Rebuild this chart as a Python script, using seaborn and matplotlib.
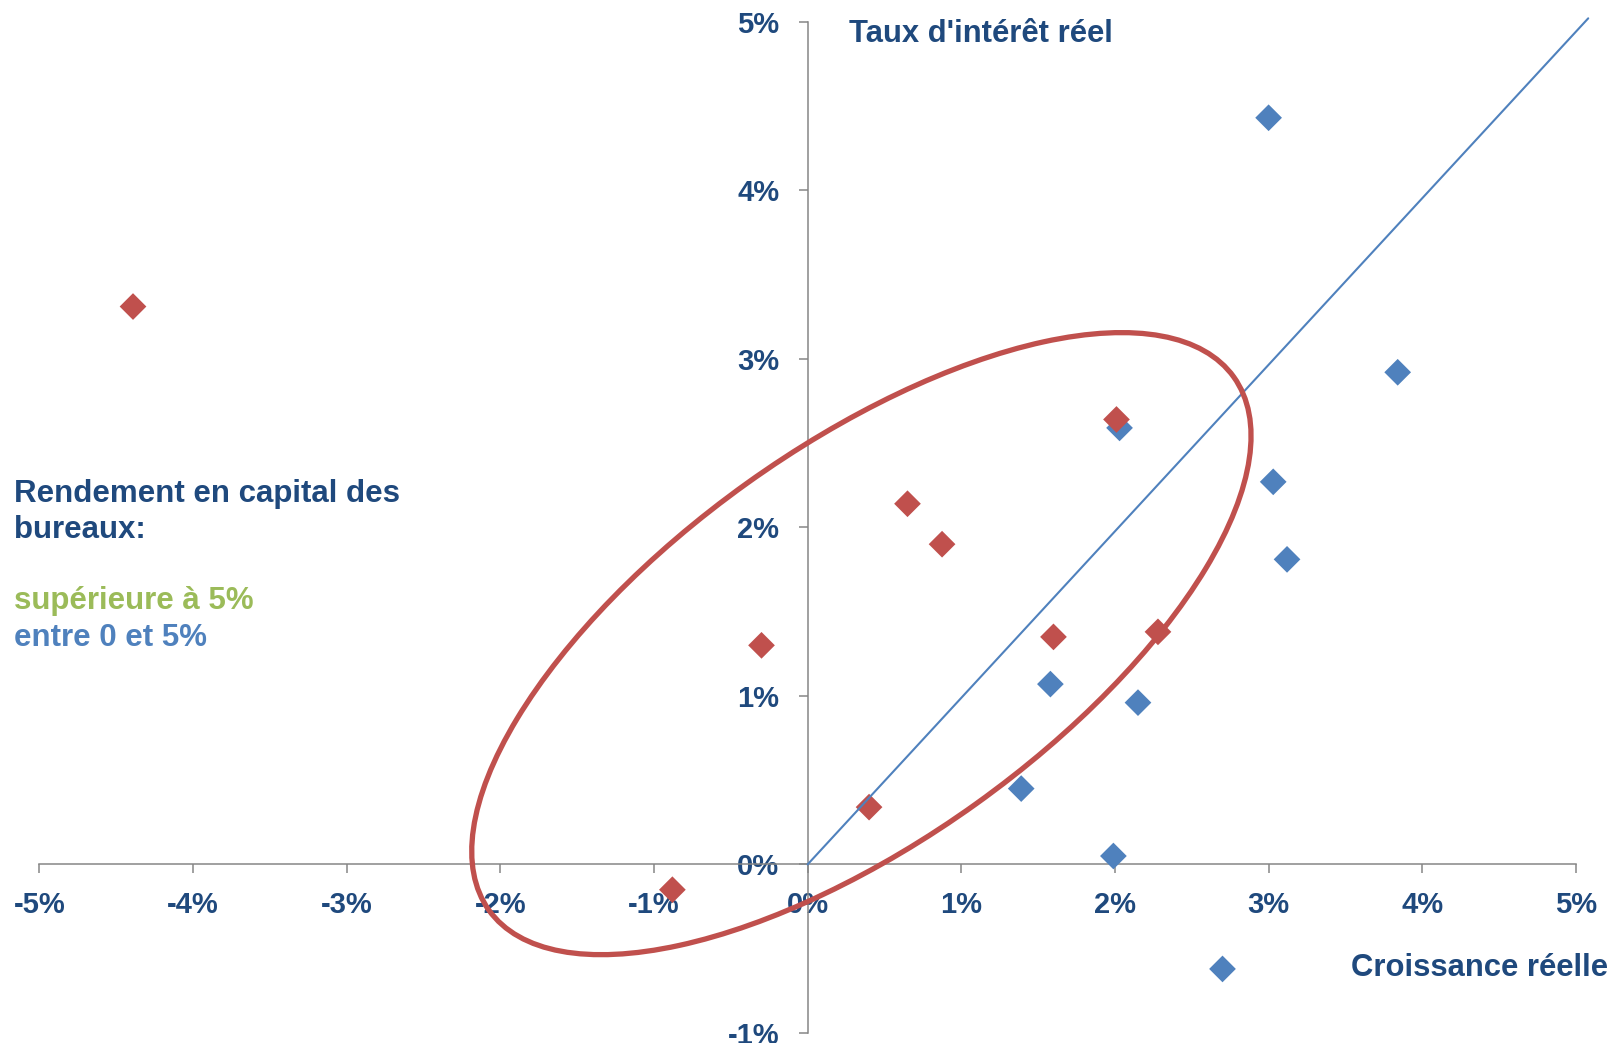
"""Croissance réelle vs taux d'intérêt réel, with the office capital return groups."""

import matplotlib

matplotlib.use("Agg")

import matplotlib.pyplot as plt
import pandas as pd
import seaborn as sns
from matplotlib.patches import Ellipse
from matplotlib.ticker import FuncFormatter
from matplotlib.transforms import IdentityTransform

# capital return above 5% (red markers)
high_growth = [-4.39, -0.88, -0.30, 0.40, 0.65, 0.875, 1.60, 2.01, 2.28]
high_rate = [3.31, -0.15, 1.30, 0.34, 2.14, 1.90, 1.35, 2.64, 1.38]

# capital return between 0 and 5% (blue markers)
mid_growth = [2.03, 3.00, 3.84, 3.03, 3.12, 1.58, 2.15, 1.39, 1.99, 2.70]
mid_rate = [2.59, 4.43, 2.92, 2.27, 1.81, 1.07, 0.96, 0.45, 0.05, -0.62]

# 45 degree reference line
diag_x = [0.0, 5.08]
diag_y = [0.0, 5.02]

x_ticks = [-5, -4, -3, -2, -1, 0, 1, 2, 3, 4, 5]
y_ticks = [-1, 0, 1, 2, 3, 4, 5]

RED = "#C0504D"
BLUE = "#4F81BD"
GREEN = "#9BBB59"
NAVY = "#1F497D"
GREY = "#868686"

sns.set_theme(style="white")
plt.rcParams["font.family"] = ["Liberation Sans", "DejaVu Sans"]
plt.rcParams["font.weight"] = "bold"

df = pd.concat(
    [
        pd.DataFrame({"growth": mid_growth, "rate": mid_rate, "groupe": "entre 0 et 5%"}),
        pd.DataFrame({"growth": high_growth, "rate": high_rate, "groupe": "supérieure à 5%"}),
    ],
    ignore_index=True,
)

fig = plt.figure(figsize=(16.23, 10.43), dpi=100)
ax = fig.add_axes([0.0242, 0.0096, 0.9468, 0.9696])

ax.plot(diag_x, diag_y, color=BLUE, lw=1.5, clip_on=False, zorder=4)

sns.scatterplot(
    data=df,
    x="growth",
    y="rate",
    hue="groupe",
    palette={"entre 0 et 5%": BLUE, "supérieure à 5%": RED},
    marker="D",
    s=185,
    linewidth=0,
    legend=False,
    ax=ax,
    zorder=3,
    clip_on=False,
)

ax.set_xlim(-5, 5)
ax.set_ylim(-1, 5)
ax.set_xticks(x_ticks)
ax.set_yticks(y_ticks)
pct = FuncFormatter(lambda v, _: f"{v:.0f}%")
ax.xaxis.set_major_formatter(pct)
ax.yaxis.set_major_formatter(pct)
ax.set_xlabel("")
ax.set_ylabel("")

for side in ("top", "right"):
    ax.spines[side].set_visible(False)
ax.spines["bottom"].set_position(("data", 0))
ax.spines["left"].set_position(("data", 0))
for side in ("bottom", "left"):
    ax.spines[side].set_color(GREY)
    ax.spines[side].set_linewidth(1.1)

ax.tick_params(axis="x", direction="out", length=6.5, width=1.1, color=GREY,
               pad=12.5, labelsize=21, labelcolor=NAVY)
ax.tick_params(axis="y", direction="out", length=6.5, width=1.1, color=GREY,
               pad=14, labelsize=21, labelcolor=NAVY)
ax.tick_params(bottom=True, left=True)
for lab in ax.get_xticklabels() + ax.get_yticklabels():
    lab.set_fontweight("bold")

ax.text(0.267, 4.925, "Taux d'intérêt réel", color=NAVY, fontsize=22.3,
        fontweight="bold", ha="left", va="center")
ax.text(5.21, -0.615, "Croissance réelle", color=NAVY, fontsize=22.3,
        fontweight="bold", ha="right", va="center", clip_on=False)

fig.text(0.0089, 0.5266, "Rendement en capital des", color=NAVY, fontsize=22.5,
         fontweight="bold", va="center")
fig.text(0.0089, 0.4919, "bureaux:", color=NAVY, fontsize=22.5,
         fontweight="bold", va="center")
fig.text(0.0089, 0.4234, "supérieure à 5%", color=GREEN, fontsize=22.5,
         fontweight="bold", va="center")
fig.text(0.0089, 0.3887, "entre 0 et 5%", color=BLUE, fontsize=22.5,
         fontweight="bold", va="center")

# hand-drawn style ellipse around the cluster, set out in pixel space
cx, cy = ax.transData.transform((0.35, 1.31))
ring = Ellipse((cx, cy), width=2 * 458, height=2 * 197, angle=35.6,
               transform=IdentityTransform(), fill=False, ec=RED, lw=3.8,
               zorder=5, clip_on=False)
fig.add_artist(ring)

fig.savefig("out.png", dpi=100)
